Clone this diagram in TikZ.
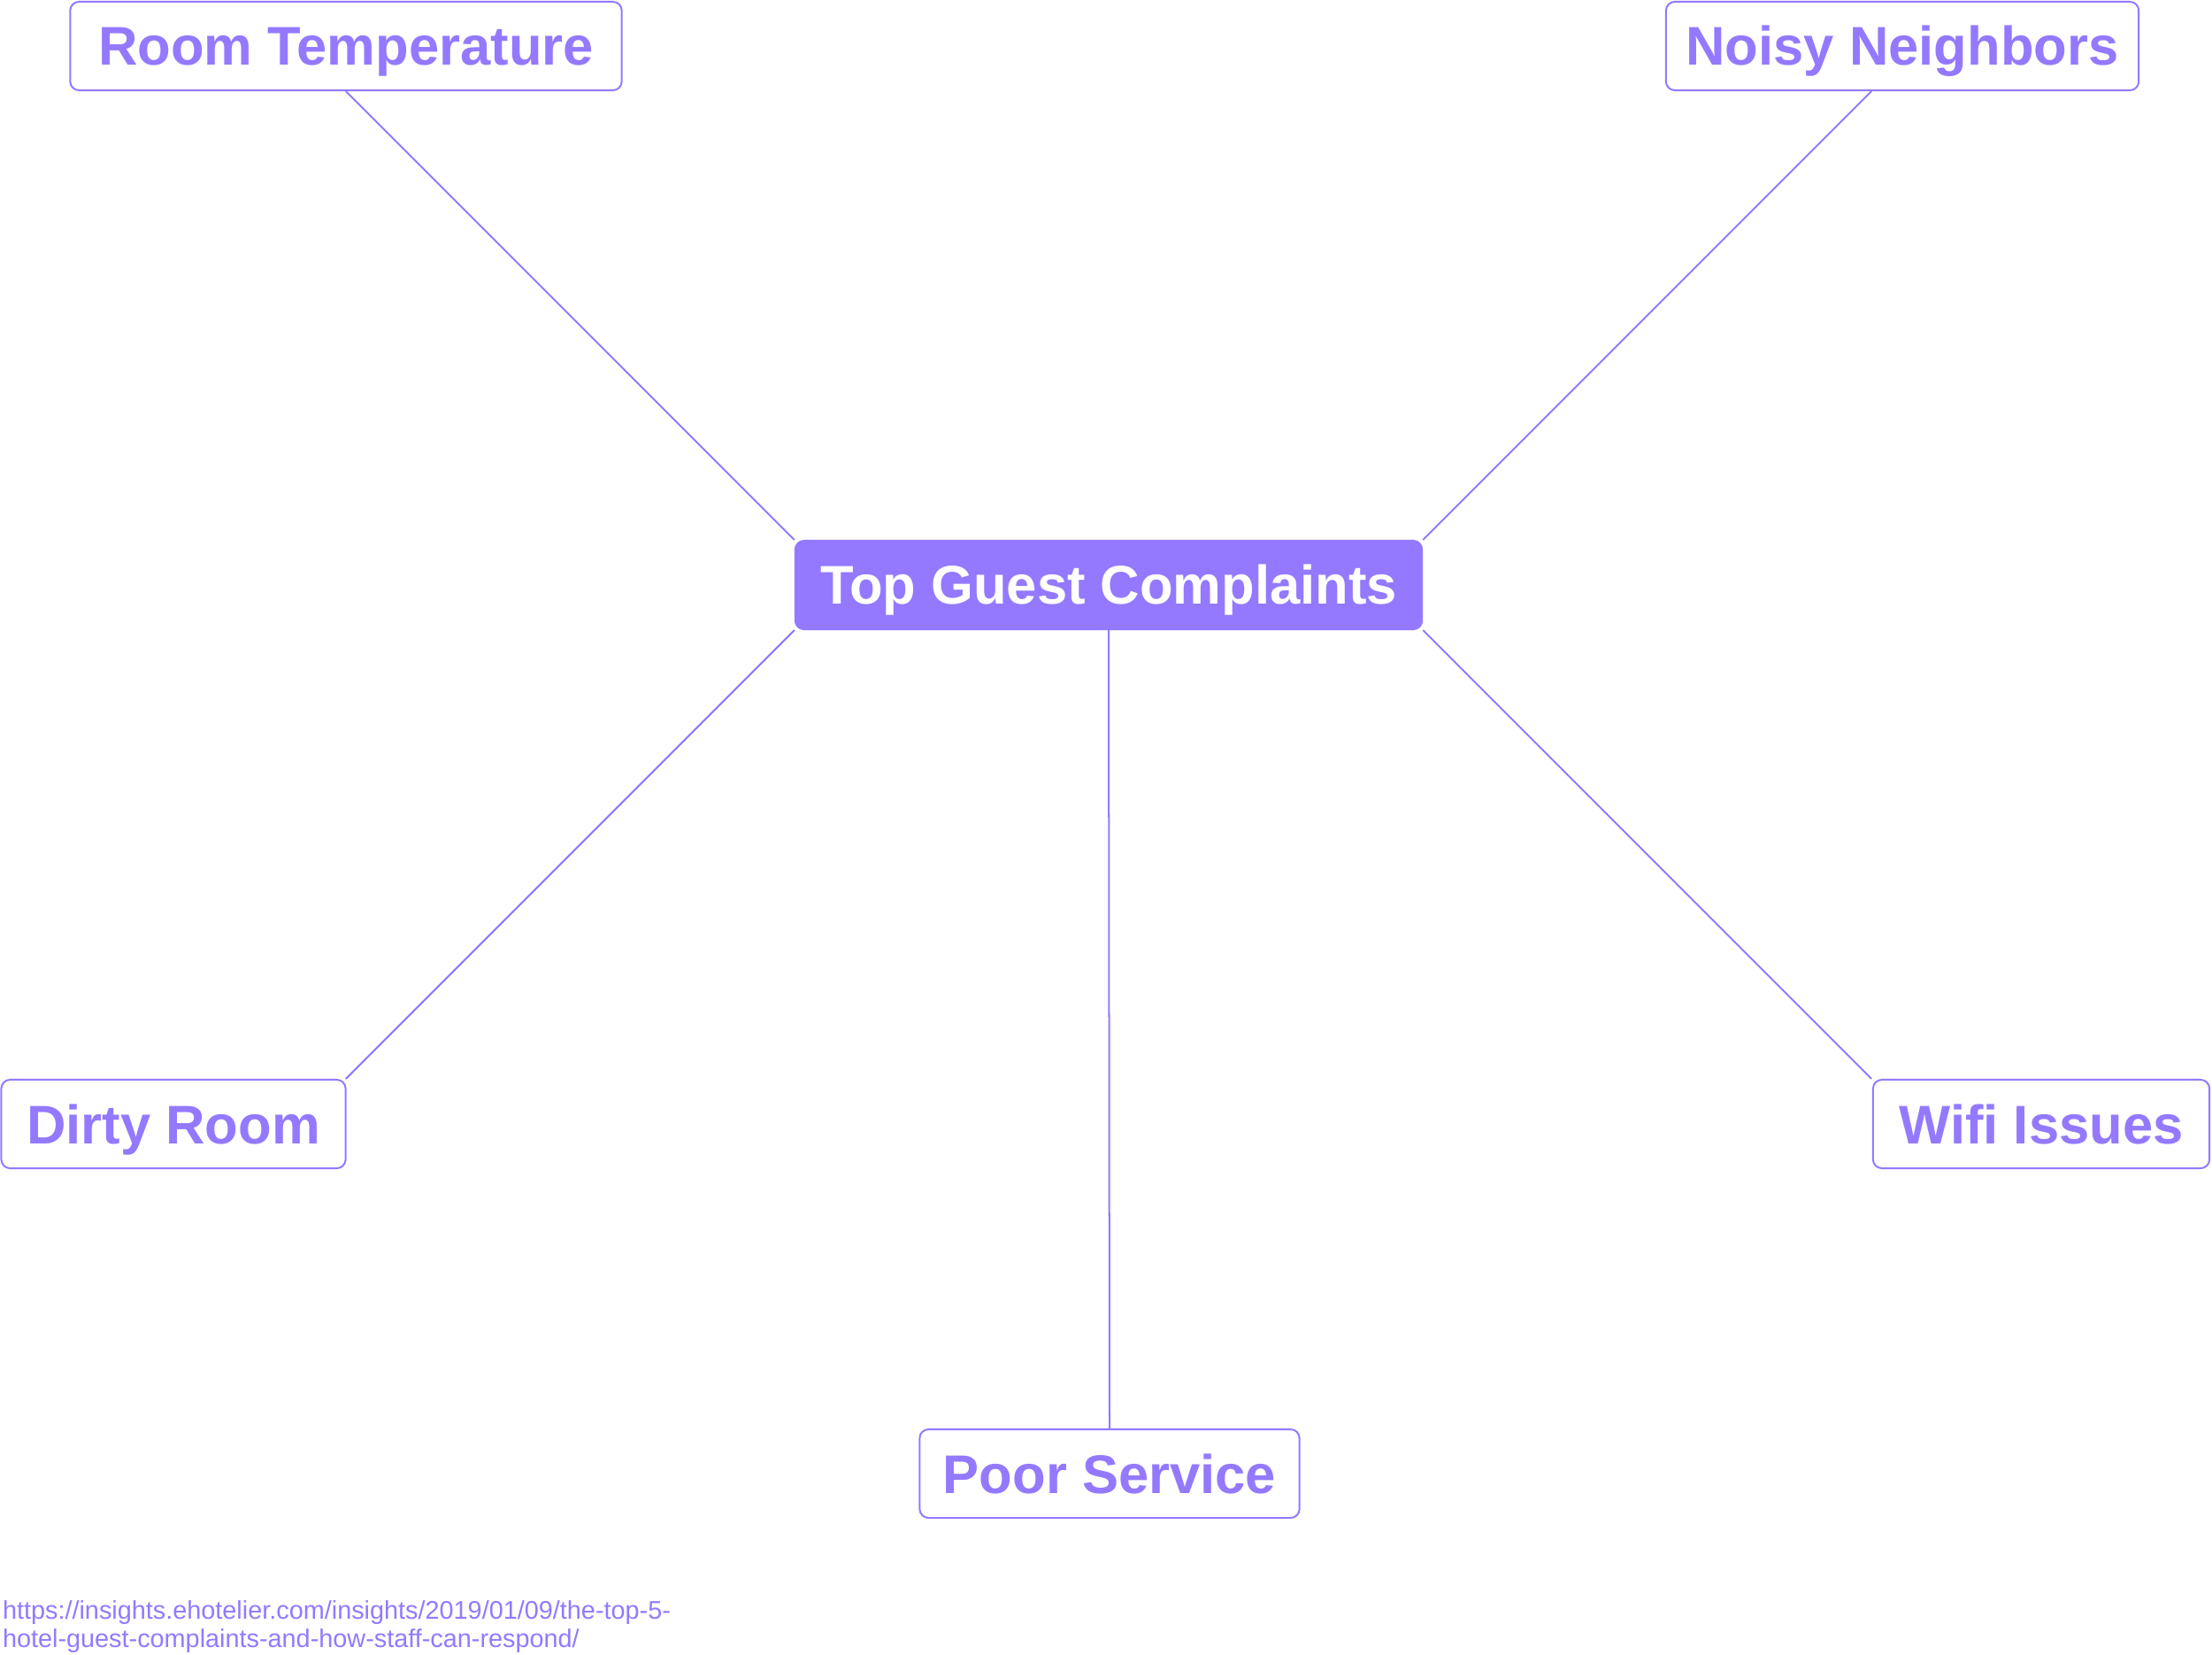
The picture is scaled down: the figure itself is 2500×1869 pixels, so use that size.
\documentclass[tikz,border=0pt]{standalone}
\usepackage{fontspec}
\setmainfont{Liberation Sans}
\usepackage{tikz}
\usetikzlibrary{positioning, calc}

\definecolor{lilac}{HTML}{9479FF}

\begin{document}
\begin{tikzpicture}[
    x=0.01cm, y=-0.01cm,
    line width=0.57pt,
    hub/.style={draw=lilac, fill=lilac, rectangle, rounded corners=1mm, minimum width=7.08cm, minimum height=1cm, align=center, text=white, text height=12.5pt, text depth=0pt, font=\bfseries\fontsize{17.5}{21}\selectfont},
    topic/.style={draw=lilac, fill=white, rectangle, rounded corners=1mm, minimum height=1cm, align=center, text=lilac, text height=12.5pt, text depth=0pt, font=\bfseries\fontsize{17.5}{21}\selectfont},
    spoke/.style={draw=lilac}
]
    \useasboundingbox (0,0) rectangle (2500,1869);

    % ================= CENTRE =================
    \node[hub] (TGC) at (1253, 661) {Top Guest Complaints};

    % ================= COMPLAINTS =================
    \node[topic, minimum width=6.23cm] (RT) at (391, 52) {Room Temperature};
    \node[topic, minimum width=5.34cm] (NN) at (2150, 52) {Noisy Neighbors};
    \node[topic, minimum width=3.89cm] (DR) at (196, 1270) {Dirty Room};
    \node[topic, minimum width=3.80cm] (WI) at (2307, 1270) {Wifi Issues};
    \node[topic, minimum width=4.29cm] (PS) at (1254, 1665) {Poor Service};

    % ================= SPOKES =================
    % diagonal spokes leave the hub corners at 45 degrees
    \draw[spoke] let \p1=(TGC.north west), \p2=(RT.south) in (TGC.north west) -- (\x1-\y2+\y1, \y2);
    \draw[spoke] let \p1=(TGC.north east), \p2=(NN.south) in (TGC.north east) -- (\x1+\y2-\y1, \y2);
    \draw[spoke] let \p1=(TGC.south west), \p2=(DR.north) in (TGC.south west) -- (\x1-\y1+\y2, \y2);
    \draw[spoke] let \p1=(TGC.south east), \p2=(WI.north) in (TGC.south east) -- (\x1+\y1-\y2, \y2);
    \draw[spoke] (TGC.south) -- (PS.north);

    % Source line
    \node[anchor=north west, align=left, inner sep=0pt, text=lilac, font=\fontsize{8.2}{9.1}\selectfont] (SRC) at (2, 1808)
        {https://insights.ehotelier.com/insights/2019/01/09/the-top-5-\\hotel-guest-complaints-and-how-staff-can-respond/};

\end{tikzpicture}
\end{document}
